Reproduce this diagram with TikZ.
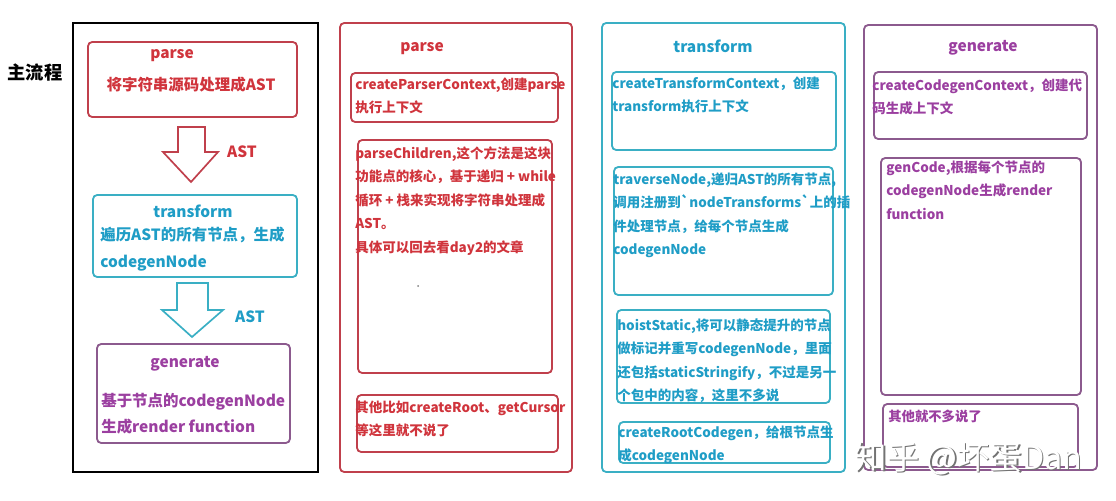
\documentclass[tikz,border=0pt]{standalone}
\usepackage{fontspec}
\newfontfamily\cjk{Noto Sans CJK SC}
\definecolor{redline}{HTML}{C0404C}
\definecolor{redtext}{HTML}{D0343C}
\definecolor{cyanline}{HTML}{3AAFC4}
\definecolor{cyantext}{HTML}{1F9DC6}
\definecolor{purpline}{HTML}{8C5A8E}
\definecolor{purptext}{HTML}{9B3FA0}
% one row of text per line, 23.5px apart
\newcommand\colrows[5]{%
  \foreach \row [count=\k] in {#5}
    \node[txt,text=#4] (#1-\k) at (#2,{#3+5+23.5*(\k-1)}) {\row};}

\begin{document}
\begin{tikzpicture}[x=0.025cm,y=-0.025cm,
    frame/.style={rounded corners=3pt,line width=1.3pt},
    head/.style={inner sep=0pt,font=\cjk\bfseries\fontsize{11}{13}\selectfont},
    txt/.style={anchor=base west,inner sep=0pt,font=\cjk\bfseries\fontsize{9.6}{12}\selectfont}]
  \useasboundingbox (0,0) rectangle (1116,500);

  % main flow
  \node[font=\cjk\bfseries\fontsize{13}{15}\selectfont] (title) at (35,73) {主流程};
  \draw[line width=1.6pt] (73,23) rectangle (318,472);

  \draw[frame,draw=redline] (88,42) rectangle (297,117);
  \node[head,text=redtext] (m-parse) at (172,56) {parse};
  \node[head,text=redtext] (m-parse-t) at (191,85) {将字符串源码处理成AST};

  \draw[line width=1.2pt,draw=redline,line join=miter] (178,127) -- (205,127) -- (205,152) -- (218,152)
    -- (191,182) -- (163,152) -- (178,152) -- cycle;
  \node[head,text=redtext] (ast1) at (242,152) {AST};

  \draw[frame,draw=cyanline] (93,195) rectangle (297,277);
  \node[head,text=cyantext] (m-trans) at (193,211) {transform};
  \node[txt,text=cyantext,font=\cjk\bfseries\fontsize{11}{13}\selectfont] (m-trans-1) at (100,240) {遍历AST的所有节点，生成};
  \node[txt,text=cyantext,font=\cjk\bfseries\fontsize{11}{13}\selectfont] (m-trans-2) at (100,267) {codegenNode};

  \draw[line width=1.2pt,draw=cyanline,line join=miter] (177,283) -- (208,283) -- (208,310) -- (223,310)
    -- (192,337) -- (162,310) -- (177,310) -- cycle;
  \node[head,text=cyantext] (ast2) at (250,317) {AST};

  \draw[frame,draw=purpline] (97,344) rectangle (290,443);
  \node[head,text=purptext] (m-gen) at (185,364) {generate};
  \node[txt,text=purptext,font=\cjk\bfseries\fontsize{11}{13}\selectfont] (m-gen-1) at (101,406) {基于节点的codegenNode};
  \node[txt,text=purptext,font=\cjk\bfseries\fontsize{11}{13}\selectfont] (m-gen-2) at (101,432) {生成render function};

  % parse column
  \draw[frame,draw=redline] (340,23) rectangle (572,472);
  \node[head,text=redtext] (p-head) at (422,49) {parse};
  \draw[frame,draw=redline] (351,73) rectangle (558,122);
  \colrows{p-ctx}{355}{84}{redtext}{{createParserContext,创建parse},{执行上下文}}
  \draw[frame,draw=redline] (358,140) rectangle (552,373);
  \colrows{p-child}{355}{153}{redtext}{{parseChildren,这个方法是这块},{功能点的核心，基于递归 + while},{循环 + 栈来实现将字符串处理成},{AST。},{具体可以回去看day2的文章}}
  \fill[gray] (418,286) circle (1);
  \draw[frame,draw=redline] (357,395) rectangle (558,452);
  \colrows{p-rest}{355}{407}{redtext}{{其他比如createRoot、getCursor},{等这里就不说了}}

  % transform column
  \draw[frame,draw=cyanline] (602,23) rectangle (845,472);
  \node[head,text=cyantext] (t-head) at (713,46) {transform};
  \draw[frame,draw=cyanline] (612,72) rectangle (836,150);
  \colrows{t-ctx}{612}{83}{cyantext}{{createTransformContext，创建},{transform执行上下文}}
  \draw[frame,draw=cyanline] (614,167) rectangle (833,295);
  \colrows{t-trav}{613}{179}{cyantext}{{traverseNode,递归AST的所有节点,},{调用注册到\symbol{96}nodeTransforms\symbol{96}上的插},{件处理节点，给每个节点生成},{codegenNode}}
  \draw[frame,draw=cyanline] (617,310) rectangle (830,403);
  \colrows{t-hoist}{617}{325}{cyantext}{{hoistStatic,将可以静态提升的节点},{做标记并重写codegenNode，里面},{还包括staticStringify，不过是另一},{个包中的内容，这里不多说}}
  \draw[frame,draw=cyanline] (619,422) rectangle (830,463);
  \colrows{t-root}{618}{432}{cyantext}{{createRootCodegen，给根节点生},{成codegenNode}}

  % generate column
  \draw[frame,draw=purpline] (864,25) rectangle (1097,470);
  \node[head,text=purptext] (g-head) at (983,48) {generate};
  \draw[frame,draw=purpline] (874,72) rectangle (1087,139);
  \colrows{g-ctx}{872}{85}{purptext}{{createCodegenContext，创建代},{码生成上下文}}
  \draw[frame,draw=purpline] (881,158) rectangle (1081,395);
  \colrows{g-code}{886}{167}{purptext}{{genCode,根据每个节点的},{codegenNode生成render},{function}}
  \draw[frame,draw=purpline] (883,404) rectangle (1078,467);
  \node[txt,text=purptext,font=\cjk\bfseries\fontsize{9.5}{11}\selectfont] (g-rest) at (888,421) {其他就不多说了};

  % watermark
  \node[font=\cjk\fontsize{23}{25}\selectfont,text=black!55] (mark-s) at (970,460) {知乎 @坏蛋Dan};
  \node[font=\cjk\fontsize{23}{25}\selectfont,text=white] (mark) at (968.5,458.5) {知乎 @坏蛋Dan};
\end{tikzpicture}
\end{document}
